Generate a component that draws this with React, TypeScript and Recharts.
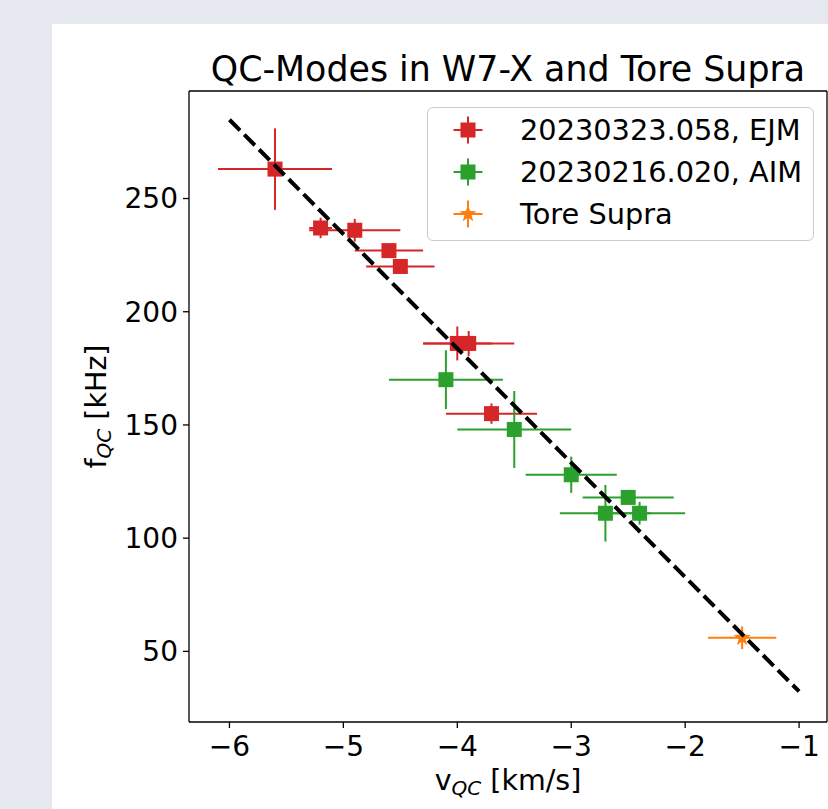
import {
  ScatterChart,
  Scatter,
  XAxis,
  YAxis,
  ErrorBar,
  ReferenceLine,
  Legend,
  Label,
} from "recharts";

const FONT = '"DejaVu Sans", sans-serif';
const RED = "#d62728";
const GREEN = "#2ca02c";
const ORANGE = "#ff7f0e";

// 20230323.058, EJM
const ejmV = [-5.6, -5.2, -4.9, -4.6, -4.5, -4.0, -3.9, -3.7];
const ejmF = [263, 237, 236, 227, 220, 186, 186, 155];
const ejmVErr = [0.5, 0.1, 0.4, 0.3, 0.3, 0.3, 0.4, 0.4];
const ejmFErr = [18, 4.5, 5, 2, 2, 7.5, 5.5, 4.5];

// 20230216.020, AIM
const aimV = [-4.1, -3.5, -3.0, -2.5, -2.7, -2.4];
const aimF = [170, 148, 128, 118, 111, 111];
const aimVErr = [0.5, 0.5, 0.4, 0.4, 0.4, 0.4];
const aimFErr = [13, 17, 8, 2, 12.5, 5];

// Tore Supra
const toreV = [-1.5];
const toreF = [56];
const toreVErr = [0.3];
const toreFErr = [5];

// dashed scaling line
const fitV = [-6, -1];
const fitF = [284.8, 32.3];

const seriesNames = ["20230323.058, EJM", "20230216.020, AIM", "Tore Supra"];
const xTicks = [-6, -5, -4, -3, -2, -1];
const yTicks = [50, 100, 150, 200, 250];
const xDomain = [-6.355, -0.755];
const yDomain = [18.8, 297.5];

const toRows = (v: number[], f: number[], ve: number[], fe: number[]) =>
  v.map((x, i) => ({ v: x, f: f[i], vErr: ve[i], fErr: fe[i] }));

const ejmData = toRows(ejmV, ejmF, ejmVErr, ejmFErr);
const aimData = toRows(aimV, aimF, aimVErr, aimFErr);
const toreData = toRows(toreV, toreF, toreVErr, toreFErr);
const fitData = fitV.map((v, i) => ({ v, f: fitF[i] }));

const minus = (n: number) => String(n).replace("-", "\u2212");

function starPoints(cx: number, cy: number, R: number, r: number) {
  const pts: string[] = [];
  for (let k = 0; k < 10; k++) {
    const a = -Math.PI / 2 + (k * Math.PI) / 5;
    const rad = k % 2 === 0 ? R : r;
    pts.push(`${cx + rad * Math.cos(a)},${cy + rad * Math.sin(a)}`);
  }
  return pts.join(" ");
}

const Square = (props: any) => (
  <rect x={props.cx - 7.5} y={props.cy - 7.5} width={15} height={15} fill={props.fill} />
);

const Star = (props: any) => (
  <polygon points={starPoints(props.cx, props.cy, 9, 3.6)} fill={props.fill} />
);

const Nothing = () => <g />;

function LegendIcon({ color, star }: { color: string; star: boolean }) {
  return (
    <svg width={40} height={40} style={{ position: "absolute", left: 20, top: 1 }}>
      <line x1={5.5} y1={20} x2={34.5} y2={20} stroke={color} strokeWidth={2} />
      <line x1={20} y1={6.5} x2={20} y2={33.5} stroke={color} strokeWidth={2} />
      {star ? (
        <polygon points={starPoints(20, 20, 9, 3.6)} fill={color} />
      ) : (
        <rect x={12.5} y={12.5} width={15} height={15} fill={color} />
      )}
    </svg>
  );
}

function LegendBox() {
  const colors = [RED, GREEN, ORANGE];
  return (
    <div
      style={{
        position: "relative",
        width: 387,
        height: 134,
        boxSizing: "border-box",
        border: "1.3px solid #cccccc",
        borderRadius: 6,
        background: "rgba(255,255,255,0.8)",
        fontFamily: FONT,
        fontSize: 28.8,
        color: "#000",
      }}
    >
      {seriesNames.map((name, i) => (
        <div
          key={name}
          style={{ position: "absolute", left: 0, top: 1 + 42 * i, height: 42, width: 385 }}
        >
          <LegendIcon color={colors[i]} star={i === 2} />
          <span style={{ position: "absolute", left: 92, top: 0, lineHeight: "42px", whiteSpace: "nowrap" }}>
            {name}
          </span>
        </div>
      ))}
    </div>
  );
}

const XLabel = (props: any) => {
  const vb = props.viewBox;
  return (
    <text x={vb.x + vb.width / 2} y={vb.y + 68} textAnchor="middle" fontFamily={FONT} fontSize={28.5} fill="#000">
      v
      <tspan fontSize={20} fontStyle="italic" dy={5}>QC</tspan>
      <tspan dy={-5}> [km/s]</tspan>
    </text>
  );
};

const YLabel = (props: any) => {
  const vb = props.viewBox;
  const cx = 106;
  const cy = vb.y + vb.height / 2;
  return (
    <text
      x={cx}
      y={cy}
      transform={`rotate(-90, ${cx}, ${cy})`}
      textAnchor="middle"
      fontFamily={FONT}
      fontSize={28.5}
      fill="#000"
    >
      f
      <tspan fontSize={20} fontStyle="italic" dy={5}>QC</tspan>
      <tspan dy={-5}> [kHz]</tspan>
    </text>
  );
};

const tickStyle = { fontSize: 28, fill: "#000", fontFamily: FONT };

export default function App() {
  return (
    <div
      style={{
        position: "absolute",
        left: 0,
        top: 0,
        width: 828,
        height: 809,
        background: "#e5e9ef",
        overflow: "hidden",
      }}
    >
      <div style={{ position: "absolute", left: 52, top: 24, right: 0, bottom: 0, background: "#fff" }} />
      <div
        style={{
          position: "absolute",
          left: 189,
          width: 638,
          top: 52,
          textAlign: "center",
          fontFamily: FONT,
          fontSize: 34.8,
          lineHeight: 1,
          color: "#000",
          whiteSpace: "nowrap",
        }}
      >
        QC-Modes in W7-X and Tore Supra
      </div>
      <div style={{ position: "absolute", left: 0, top: 0 }}>
        <ScatterChart width={828} height={809} margin={{ top: 91, right: 1, bottom: 7, left: 109 }}>
          <XAxis
            type="number"
            dataKey="v"
            domain={xDomain}
            ticks={xTicks}
            allowDataOverflow
            height={80}
            tickFormatter={minus}
            tick={tickStyle}
            tickSize={6}
            tickMargin={8}
            axisLine={{ stroke: "#000", strokeWidth: 1.3 }}
            tickLine={{ stroke: "#000", strokeWidth: 1.3 }}
          >
            <Label content={XLabel} />
          </XAxis>
          <YAxis
            type="number"
            dataKey="f"
            domain={yDomain}
            ticks={yTicks}
            allowDataOverflow
            width={80}
            tick={tickStyle}
            tickSize={6}
            tickMargin={5}
            axisLine={{ stroke: "#000", strokeWidth: 1.3 }}
            tickLine={{ stroke: "#000", strokeWidth: 1.3 }}
          >
            <Label content={YLabel} />
          </YAxis>
          <ReferenceLine y={yDomain[1]} stroke="#000" strokeWidth={1.3} ifOverflow="visible" />
          <ReferenceLine x={xDomain[1]} stroke="#000" strokeWidth={1.3} ifOverflow="visible" />
          <Scatter name={seriesNames[0]} data={ejmData} fill={RED} shape={Square} isAnimationActive={false}>
            <ErrorBar dataKey="vErr" direction="x" width={0} stroke={RED} strokeWidth={2} isAnimationActive={false} />
            <ErrorBar dataKey="fErr" direction="y" width={0} stroke={RED} strokeWidth={2} isAnimationActive={false} />
          </Scatter>
          <Scatter name={seriesNames[1]} data={aimData} fill={GREEN} shape={Square} isAnimationActive={false}>
            <ErrorBar dataKey="vErr" direction="x" width={0} stroke={GREEN} strokeWidth={2} isAnimationActive={false} />
            <ErrorBar dataKey="fErr" direction="y" width={0} stroke={GREEN} strokeWidth={2} isAnimationActive={false} />
          </Scatter>
          <Scatter name={seriesNames[2]} data={toreData} fill={ORANGE} shape={Star} isAnimationActive={false}>
            <ErrorBar dataKey="vErr" direction="x" width={0} stroke={ORANGE} strokeWidth={2} isAnimationActive={false} />
            <ErrorBar dataKey="fErr" direction="y" width={0} stroke={ORANGE} strokeWidth={2} isAnimationActive={false} />
          </Scatter>
          <Scatter
            data={fitData}
            line={{ stroke: "#000", strokeWidth: 4, strokeDasharray: "15 6" }}
            shape={Nothing}
            legendType="none"
            isAnimationActive={false}
          />
          <Legend
            layout="vertical"
            align="center"
            verticalAlign="middle"
            content={LegendBox}
            wrapperStyle={{ top: 107, left: 427, width: 387, height: 134 }}
          />
        </ScatterChart>
      </div>
    </div>
  );
}
